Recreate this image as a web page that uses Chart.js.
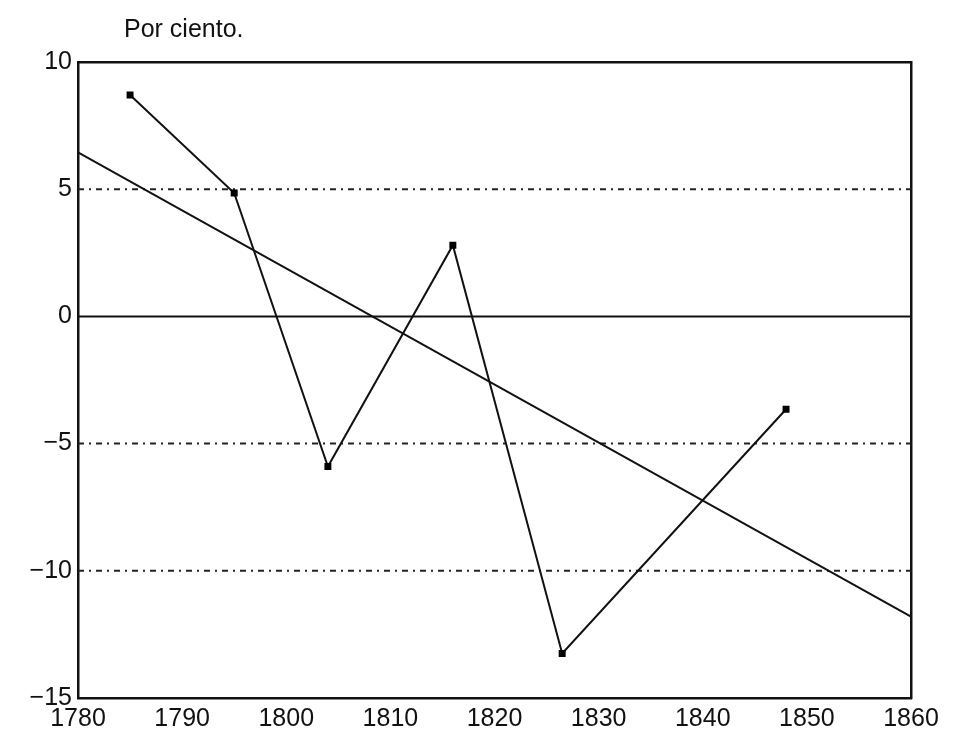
<!DOCTYPE html>
<html>
<head>
<meta charset="utf-8">
<script src="https://cdn.jsdelivr.net/npm/chart.js@4"></script>
<style>
  html, body { margin: 0; padding: 0; background: #fff; }
  #wrap { position: relative; width: 954px; height: 740px; }
  #unit { position: absolute; left: 124px; top: 14px; font: 25px "Liberation Sans", sans-serif; color: #111; }
</style>
</head>
<body>
<div id="wrap">
  <div id="unit">Por ciento.</div>
  <canvas id="chart" width="954" height="740"></canvas>
</div>
<script>
// Observed series
const years = [1785, 1795, 1804, 1816, 1826.5, 1848];
const values = [8.7, 4.85, -5.9, 2.8, -13.25, -3.65];

// Trend line end points
const trendYears = [1780, 1860];
const trendValues = [6.45, -11.8];

// Reference levels
const dashedLevels = [5, -5, -10];
const zeroLevel = 0;

const xMin = 1780, xMax = 1860, xStep = 10;
const yMin = -15, yMax = 10, yStep = 5;

const toPoints = (xs, ys) => xs.map((x, i) => ({ x, y: ys[i] }));
const tickFont = { family: '"Liberation Sans", sans-serif', size: 25 };

const refDatasets = dashedLevels.map(level => ({
    data: toPoints([xMin, xMax], [level, level]),
    borderColor: '#222',
    borderWidth: 2,
    borderDash: [6, 5, 2, 5],
    pointRadius: 0,
    order: 3
}));

const ctx = document.getElementById('chart').getContext('2d');
new Chart(ctx, {
    type: 'line',
    data: {
        datasets: [
            ...refDatasets,
            {
                data: toPoints([xMin, xMax], [zeroLevel, zeroLevel]),
                borderColor: '#111',
                borderWidth: 2,
                pointRadius: 0,
                order: 3
            },
            {
                data: toPoints(trendYears, trendValues),
                borderColor: '#111',
                borderWidth: 2,
                pointRadius: 0,
                order: 2
            },
            {
                data: toPoints(years, values),
                borderColor: '#111',
                borderWidth: 2,
                pointStyle: 'rect',
                pointRadius: 3.5,
                pointBackgroundColor: '#000',
                pointBorderColor: '#000',
                order: 1
            }
        ]
    },
    options: {
        responsive: false,
        animation: false,
        layout: { padding: { top: 62, right: 43, left: 0, bottom: 0 } },
        plugins: { legend: { display: false }, tooltip: { enabled: false } },
        scales: {
            x: {
                type: 'linear',
                min: xMin, max: xMax,
                ticks: {
                    stepSize: xStep,
                    color: '#111',
                    font: tickFont,
                    padding: 6,
                    maxRotation: 0,
                    callback: v => String(v)
                },
                grid: { display: false, drawTicks: false },
                border: { color: '#111', width: 2.5 },
                afterFit: s => { s.height = 42; }
            },
            y: {
                min: yMin, max: yMax,
                ticks: {
                    stepSize: yStep,
                    color: '#111',
                    font: tickFont,
                    padding: 6,
                    callback: v => String(v).replace('-', '\u2212')
                },
                grid: { display: false, drawTicks: false },
                border: { color: '#111', width: 2.5 },
                afterFit: s => { s.width = 78; }
            },
            x2: {
                type: 'linear', position: 'top', min: xMin, max: xMax,
                ticks: { display: false },
                grid: { display: false, drawTicks: false },
                border: { color: '#111', width: 2.5 },
                afterFit: s => { s.height = 0; }
            },
            y2: {
                position: 'right', min: yMin, max: yMax,
                ticks: { display: false },
                grid: { display: false, drawTicks: false },
                border: { color: '#111', width: 2.5 },
                afterFit: s => { s.width = 0; }
            }
        }
    }
});
</script>
</body>
</html>
